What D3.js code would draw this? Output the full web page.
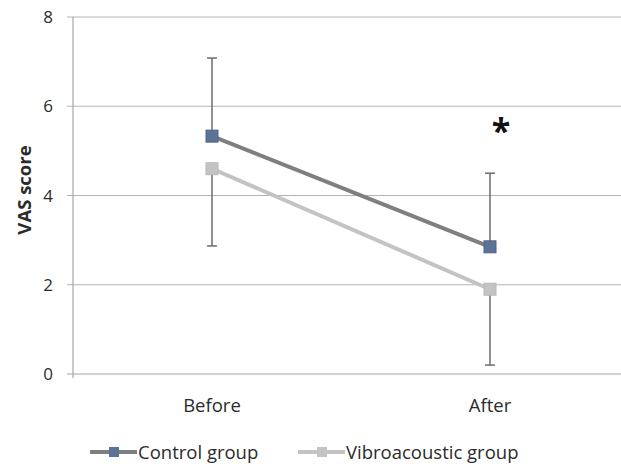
<!DOCTYPE html>
<html>
<head>
<meta charset="utf-8">
<script src="https://cdn.jsdelivr.net/npm/d3@7"></script>
<style>
body { margin: 0; background: #fff; }
text { font-family: "Open Sans", sans-serif; fill: #2b2b2b; }
</style>
</head>
<body>
<svg id="chart" width="621" height="467"></svg>
<script>
var categories = ["Before", "After"];
var yTicks = [0, 2, 4, 6, 8];
var controlValues = [5.33, 2.85];
var controlErrUp = [1.75, 1.65];
var vibroValues = [4.6, 1.9];
var vibroErrDown = [1.73, 1.7];

var svg = d3.select("#chart");

var x = d3.scalePoint().domain(categories).range([212, 490]);
var y = d3.scaleLinear().domain([0, 8]).range([374, 17]);

// gridlines
svg.selectAll("line.grid").data(yTicks).enter()
	.append("line")
	.attr("x1", 67).attr("x2", 621)
	.attr("y1", function(d) { return y(d); })
	.attr("y2", function(d) { return y(d); })
	.attr("stroke", function(d) { return d === 0 ? "#a6a6a6" : "#b3b3b3"; })
	.attr("stroke-width", 1.2);

// y axis line
svg.append("line")
	.attr("x1", 73).attr("x2", 73)
	.attr("y1", y(8)).attr("y2", y(0) + 4)
	.attr("stroke", "#a6a6a6").attr("stroke-width", 1.2);

svg.selectAll("text.ytick").data(yTicks).enter()
	.append("text")
	.attr("x", 53)
	.attr("y", function(d) { return y(d); })
	.attr("dy", "0.36em")
	.attr("text-anchor", "end")
	.style("font-size", "17px")
	.text(function(d) { return d; });

svg.append("text")
	.attr("transform", "translate(31,190) rotate(-90)")
	.attr("text-anchor", "middle")
	.style("font-size", "18.5px")
	.style("font-weight", "bold")
	.text("VAS score");

svg.selectAll("text.xtick").data(categories).enter()
	.append("text")
	.attr("x", function(d) { return x(d); })
	.attr("y", 412)
	.attr("text-anchor", "middle")
	.style("font-size", "18.5px")
	.text(function(d) { return d; });

// error bars
var errColor = "#6b6b6b";
var drawErr = function(vals, errs, sign) {
	categories.forEach(function(c, i) {
		var y0 = y(vals[i]), y1 = y(vals[i] + sign * errs[i]);
		svg.append("line").attr("x1", x(c)).attr("x2", x(c))
			.attr("y1", y0).attr("y2", y1)
			.attr("stroke", errColor).attr("stroke-width", 1.5);
		svg.append("line").attr("x1", x(c) - 5).attr("x2", x(c) + 5)
			.attr("y1", y1).attr("y2", y1)
			.attr("stroke", errColor).attr("stroke-width", 1.5);
	});
};
drawErr(controlValues, controlErrUp, 1);
drawErr(vibroValues, vibroErrDown, -1);

var series = [
	{ name: "Vibroacoustic group", values: vibroValues, line: "#c3c3c3", marker: "#c3c3c3", edge: "#b8b8b8" },
	{ name: "Control group", values: controlValues, line: "#7f7f7f", marker: "#5a7396", edge: "#4d6485" }
];

var line = d3.line()
	.x(function(d, i) { return x(categories[i]); })
	.y(function(d) { return y(d); });

series.forEach(function(s) {
	svg.append("path")
		.attr("d", line(s.values))
		.attr("fill", "none")
		.attr("stroke", s.line)
		.attr("stroke-width", 4);
	svg.selectAll(null).data(s.values).enter()
		.append("rect")
		.attr("x", function(d, i) { return x(categories[i]) - 6; })
		.attr("y", function(d) { return y(d) - 6; })
		.attr("width", 12).attr("height", 12)
		.attr("fill", s.marker)
		.attr("stroke", s.edge)
		.attr("stroke-width", 1);
});

svg.append("text")
	.attr("x", 501).attr("y", 143)
	.attr("text-anchor", "middle")
	.style("font-size", "34px")
	.style("font-weight", "bold")
	.style("fill", "#111")
	.text("*");

// legend
var legend = [
	{ name: "Control group", line: "#7f7f7f", marker: "#5a7396", x: 90 },
	{ name: "Vibroacoustic group", line: "#c3c3c3", marker: "#c3c3c3", x: 298 }
];
legend.forEach(function(l) {
	svg.append("line").attr("x1", l.x).attr("x2", l.x + 47)
		.attr("y1", 452).attr("y2", 452)
		.attr("stroke", l.line).attr("stroke-width", 4);
	svg.append("rect").attr("x", l.x + 19).attr("y", 447)
		.attr("width", 10).attr("height", 10).attr("fill", l.marker);
	svg.append("text").attr("x", l.x + 48).attr("y", 452)
		.attr("dy", "0.36em")
		.style("font-size", "18.5px")
		.text(l.name);
});
</script>
</body>
</html>
